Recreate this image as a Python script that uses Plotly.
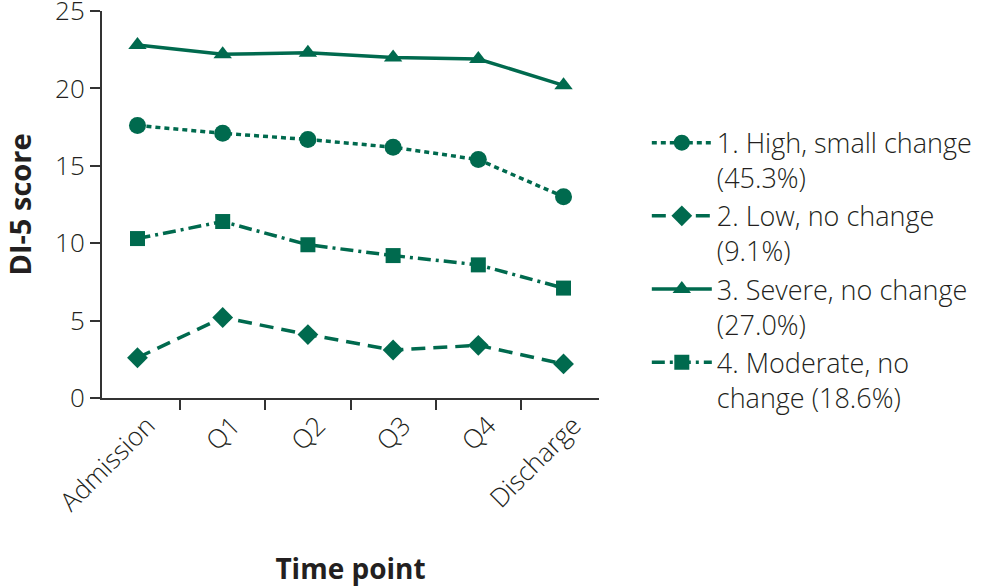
import plotly.graph_objects as go

categories = ["Admission", "Q1", "Q2", "Q3", "Q4", "Discharge"]
high_small = [17.6, 17.1, 16.7, 16.2, 15.4, 13.0]
low_none = [2.6, 5.2, 4.1, 3.1, 3.4, 2.2]
severe_none = [22.8, 22.2, 22.3, 22.0, 21.9, 20.2]
moderate_none = [10.3, 11.4, 9.9, 9.2, 8.6, 7.1]
names = ["1. High, small change<br>(45.3%)", "2. Low, no change<br>(9.1%)",
         "3. Severe, no change<br>(27.0%)", "4. Moderate, no<br>change (18.6%)"]
y_ticks = [0, 5, 10, 15, 20, 25]

GREEN = "#006A4E"
FONT = "Open Sans"
TXT = "#231f20"

series = [
    (high_small, names[0], "circle", "5px,4px", 17),
    (low_none, names[1], "diamond", "14px,8px", 16),
    (severe_none, names[2], "triangle-up", "solid", 16),
    (moderate_none, names[3], "square", "13px,5px,3px,5px", 15),
]

fig = go.Figure()
for vals, name, sym, dash, size in series:
    fig.add_trace(go.Scatter(
        x=categories, y=vals, name=name, mode="lines+markers",
        line=dict(color=GREEN, width=3.5, dash=dash),
        marker=dict(symbol=sym, size=size, color=GREEN),
    ))

fig.update_layout(
    width=987, height=587,
    margin=dict(l=102, r=387, t=11, b=189),
    paper_bgcolor="white", plot_bgcolor="white",
    font=dict(family=FONT, size=27, color=TXT),
    showlegend=True,
    legend=dict(x=1.094, xanchor="left", y=0.722, yanchor="top",
                font=dict(family=FONT, size=27, color=TXT, weight=300),
                valign="top", tracegroupgap=2, itemwidth=60,
                bgcolor="rgba(0,0,0,0)"),
)
fig.update_xaxes(
    showline=True, linecolor="#333", linewidth=2,
    ticks="outside", ticklen=10, tickcolor="#333", tickwidth=2,
    tickson="boundaries", tickangle=-45, automargin=False,
    ticklabelshift=10,
    tickfont=dict(family=FONT, size=26, color=TXT, weight=300),
    showgrid=False, zeroline=False,
    title=dict(text="<b>Time point</b>", font=dict(family=FONT, size=28, color=TXT), standoff=42),
)
fig.update_yaxes(
    range=[0, 25], tickmode="array", tickvals=y_ticks,
    ticklabeloverflow="allow",
    showline=True, linecolor="#333", linewidth=2,
    ticks="outside", ticklen=10, tickcolor="#333", tickwidth=2, automargin=False,
    tickfont=dict(family=FONT, size=26, color=TXT, weight=300),
    showgrid=False, zeroline=False,
    title=dict(text="<b>DI-5 score</b>", font=dict(family=FONT, size=29, color=TXT), standoff=22),
)

fig.write_html("out.html", config={"displayModeBar": False},
               post_script="document.body.style.margin='0';")
